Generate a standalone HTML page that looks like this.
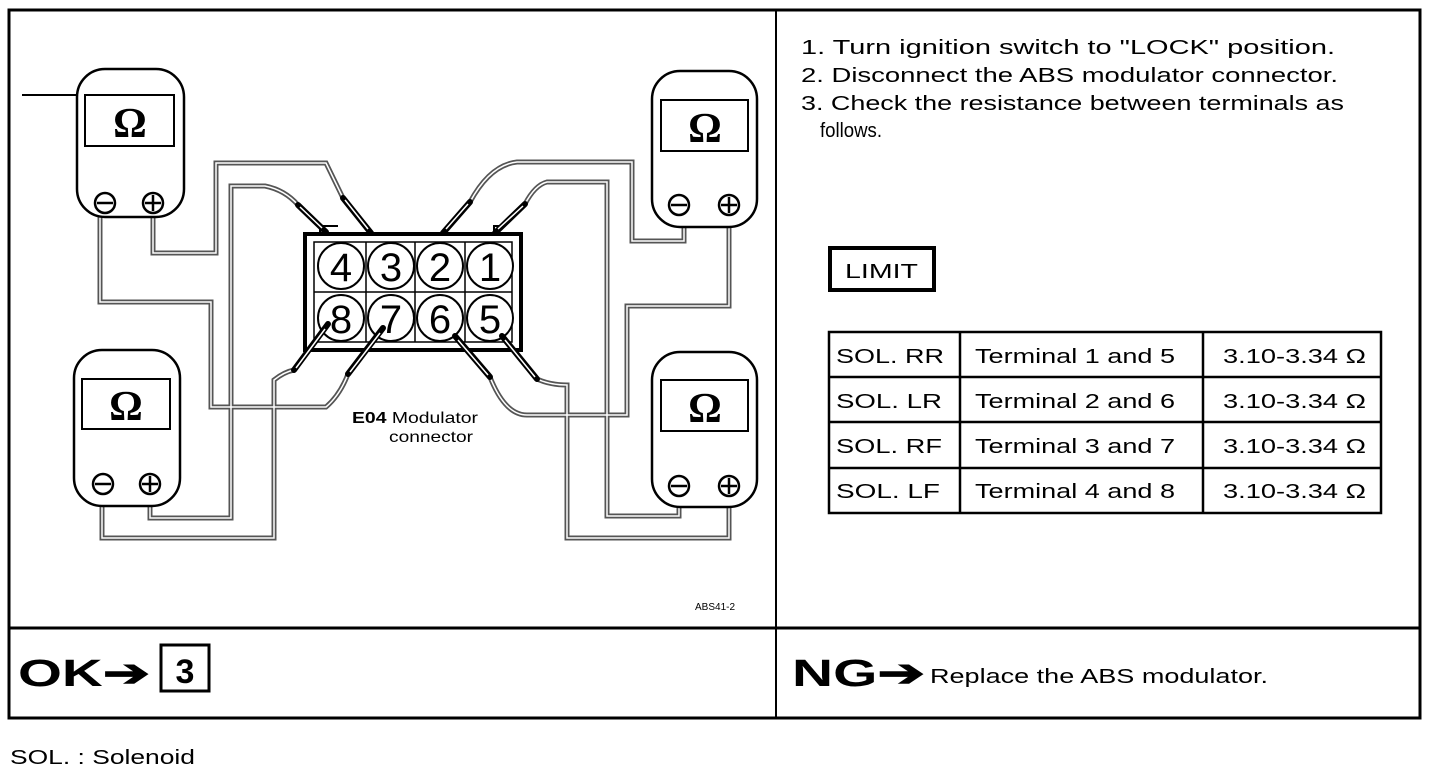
<!DOCTYPE html>
<html><head><meta charset="utf-8"><style>
html,body{margin:0;padding:0;background:#fff;}
svg{display:block;font-family:"Liberation Sans",Arial,sans-serif;}
</style></head><body>
<svg width="1440" height="772" viewBox="0 0 1440 772" xmlns="http://www.w3.org/2000/svg">
<rect x="9" y="10" width="1411" height="708" fill="none" stroke="#000" stroke-width="3"/>
<line x1="776" y1="10" x2="776" y2="718" stroke="#000" stroke-width="2"/>
<line x1="9" y1="628" x2="1420" y2="628" stroke="#000" stroke-width="3"/>
<line x1="22" y1="95" x2="88" y2="95" stroke="#000" stroke-width="2"/>

<g fill="none" stroke-linejoin="miter">
<g stroke="#555" stroke-width="5">
<path d="M153 217 V253 H216 V163 H326 L343 198"/>
<path d="M100 217 V302 H211 V407 H326 Q340 395 348 374"/>
<path d="M150 506 V518 H231 V186 H265 Q285 190 298 205"/>
<path d="M102 506 V538 H274 V380 Q284 372 294 370"/>
<path d="M470 202 Q490 165 517 162 H632 V241 H684 V227"/>
<path d="M525 204 Q535 185 547 182 H607 V516 H679 V507"/>
<path d="M490 377 Q505 415 527 415 H627 V306 H729 V227"/>
<path d="M537 379 Q550 385 567 385 V538 H729 V507"/>
</g>
<g stroke="#fff" stroke-width="1.5">
<path d="M153 217 V253 H216 V163 H326 L343 198"/>
<path d="M100 217 V302 H211 V407 H326 Q340 395 348 374"/>
<path d="M150 506 V518 H231 V186 H265 Q285 190 298 205"/>
<path d="M102 506 V538 H274 V380 Q284 372 294 370"/>
<path d="M470 202 Q490 165 517 162 H632 V241 H684 V227"/>
<path d="M525 204 Q535 185 547 182 H607 V516 H679 V507"/>
<path d="M490 377 Q505 415 527 415 H627 V306 H729 V227"/>
<path d="M537 379 Q550 385 567 385 V538 H729 V507"/>
</g>
</g>

<g fill="#fff" stroke="#000" stroke-width="2.5">
<rect x="77" y="69" width="107" height="148" rx="28"/>
<rect x="652" y="71" width="105" height="156" rx="28"/>
<rect x="74" y="350" width="106" height="156" rx="28"/>
<rect x="652" y="352" width="105" height="155" rx="28"/>
</g>
<g fill="none" stroke="#000" stroke-width="2">
<rect x="85" y="95" width="89" height="51"/>
<rect x="661" y="100" width="87" height="51"/>
<rect x="82" y="379" width="88" height="50"/>
<rect x="661" y="380" width="87" height="51"/>
</g>
<g font-family="Liberation Serif,serif" font-size="42" font-weight="bold" text-anchor="middle">
<text x="130" y="137">Ω</text><text x="705" y="142">Ω</text>
<text x="126" y="420">Ω</text><text x="705" y="422">Ω</text>
</g>
<g fill="none" stroke="#000" stroke-width="2.5">
<circle cx="105" cy="203" r="10"/><line x1="97" y1="203" x2="113" y2="203"/>
<circle cx="153" cy="203" r="10"/><line x1="145" y1="203" x2="161" y2="203"/><line x1="153" y1="195" x2="153" y2="211"/>
<circle cx="679" cy="205" r="10"/><line x1="671" y1="205" x2="687" y2="205"/>
<circle cx="729" cy="205" r="10"/><line x1="721" y1="205" x2="737" y2="205"/><line x1="729" y1="197" x2="729" y2="213"/>
<circle cx="103" cy="484" r="10"/><line x1="95" y1="484" x2="111" y2="484"/>
<circle cx="150" cy="484" r="10"/><line x1="142" y1="484" x2="158" y2="484"/><line x1="150" y1="476" x2="150" y2="492"/>
<circle cx="679" cy="486" r="10"/><line x1="671" y1="486" x2="687" y2="486"/>
<circle cx="729" cy="486" r="10"/><line x1="721" y1="486" x2="737" y2="486"/><line x1="729" y1="478" x2="729" y2="494"/>
</g>

<rect x="305" y="234" width="216" height="116" fill="#fff" stroke="#000" stroke-width="4"/>
<rect x="314" y="242" width="198" height="100" fill="none" stroke="#000" stroke-width="1.5"/>
<line x1="314" y1="292" x2="512" y2="292" stroke="#000" stroke-width="1.5"/>
<g stroke="#000" stroke-width="1.5"><line x1="366" y1="242" x2="366" y2="342"/><line x1="415" y1="242" x2="415" y2="342"/><line x1="465" y1="242" x2="465" y2="342"/></g>
<path d="M320 234 V226 H338" fill="none" stroke="#000" stroke-width="2"/>
<path d="M494 234 V226 H500" fill="none" stroke="#000" stroke-width="2"/>
<g fill="#fff" stroke="#000" stroke-width="2">
<circle cx="341" cy="266" r="23"/><circle cx="391" cy="266" r="23"/><circle cx="440" cy="266" r="23"/><circle cx="490" cy="266" r="23"/>
<circle cx="341" cy="318" r="23"/><circle cx="391" cy="318" r="23"/><circle cx="440" cy="318" r="23"/><circle cx="490" cy="318" r="23"/>
</g>
<g font-size="40" text-anchor="middle">
<text x="341" y="281">4</text><text x="391" y="281">3</text><text x="440" y="281">2</text><text x="490" y="281">1</text>
<text x="341" y="333">8</text><text x="391" y="333">7</text><text x="440" y="333">6</text><text x="490" y="333">5</text>
</g>
<g stroke="#000" stroke-width="6" stroke-linecap="round">
<line x1="326" y1="232" x2="298" y2="205"/><line x1="371" y1="233" x2="343" y2="198"/>
<line x1="443" y1="233" x2="470" y2="202"/><line x1="495" y1="233" x2="525" y2="204"/>
<line x1="328" y1="324" x2="294" y2="370"/><line x1="383" y1="328" x2="348" y2="374"/>
<line x1="455" y1="336" x2="490" y2="377"/><line x1="502" y1="336" x2="537" y2="379"/>
</g>
<g stroke="#fff" stroke-width="1.5">
<line x1="322" y1="228" x2="300" y2="207"/><line x1="368" y1="229" x2="345" y2="200"/>
<line x1="446" y1="229" x2="468" y2="204"/><line x1="498" y1="229" x2="523" y2="206"/>
<line x1="325" y1="329" x2="296" y2="368"/><line x1="380" y1="333" x2="350" y2="372"/>
<line x1="458" y1="340" x2="488" y2="375"/><line x1="505" y1="340" x2="535" y2="377"/>
</g>
<text x="352" y="423" font-size="16" textLength="126" lengthAdjust="spacingAndGlyphs"><tspan font-weight="bold">E04</tspan> Modulator</text>
<text x="389" y="442" font-size="16" textLength="84" lengthAdjust="spacingAndGlyphs">connector</text>
<text x="695" y="610" font-size="10">ABS41-2</text>

<g font-size="20" lengthAdjust="spacingAndGlyphs">
<text x="801" y="54" textLength="534" lengthAdjust="spacingAndGlyphs">1. Turn ignition switch to "LOCK" position.</text>
<text x="801" y="82" textLength="537" lengthAdjust="spacingAndGlyphs">2. Disconnect the ABS modulator connector.</text>
<text x="801" y="110" textLength="543" lengthAdjust="spacingAndGlyphs">3. Check the resistance between terminals as</text>
<text x="820" y="137" textLength="62" lengthAdjust="spacingAndGlyphs">follows.</text>
</g>
<rect x="830" y="248" width="104" height="42" fill="none" stroke="#000" stroke-width="4"/>
<text x="845" y="278" font-size="20" textLength="73" lengthAdjust="spacingAndGlyphs">LIMIT</text>
<g stroke="#000" stroke-width="2.5" fill="none">
<rect x="829" y="332" width="552" height="181"/>
<line x1="829" y1="377" x2="1381" y2="377"/><line x1="829" y1="422" x2="1381" y2="422"/><line x1="829" y1="468" x2="1381" y2="468"/>
<line x1="960" y1="332" x2="960" y2="513"/><line x1="1203" y1="332" x2="1203" y2="513"/>
</g>
<g font-size="20">
<text x="836" y="363" textLength="108" lengthAdjust="spacingAndGlyphs">SOL. RR</text><text x="975" y="363" textLength="200" lengthAdjust="spacingAndGlyphs">Terminal 1 and 5</text><text x="1223" y="363" textLength="143" lengthAdjust="spacingAndGlyphs">3.10-3.34 Ω</text>
<text x="836" y="408" textLength="106" lengthAdjust="spacingAndGlyphs">SOL. LR</text><text x="975" y="408" textLength="200" lengthAdjust="spacingAndGlyphs">Terminal 2 and 6</text><text x="1223" y="408" textLength="143" lengthAdjust="spacingAndGlyphs">3.10-3.34 Ω</text>
<text x="836" y="453" textLength="106" lengthAdjust="spacingAndGlyphs">SOL. RF</text><text x="975" y="453" textLength="200" lengthAdjust="spacingAndGlyphs">Terminal 3 and 7</text><text x="1223" y="453" textLength="143" lengthAdjust="spacingAndGlyphs">3.10-3.34 Ω</text>
<text x="836" y="498" textLength="104" lengthAdjust="spacingAndGlyphs">SOL. LF</text><text x="975" y="498" textLength="200" lengthAdjust="spacingAndGlyphs">Terminal 4 and 8</text><text x="1223" y="498" textLength="143" lengthAdjust="spacingAndGlyphs">3.10-3.34 Ω</text>
</g>

<text x="18" y="686" font-size="38" font-weight="bold" textLength="132" lengthAdjust="spacingAndGlyphs">OK➔</text>
<rect x="161" y="645" width="48" height="46" fill="none" stroke="#000" stroke-width="3"/>
<text x="185" y="683" font-size="34" font-weight="bold" text-anchor="middle">3</text>
<text x="792" y="686" font-size="38" font-weight="bold" textLength="133" lengthAdjust="spacingAndGlyphs">NG➔</text>
<text x="930" y="683" font-size="20" textLength="338" lengthAdjust="spacingAndGlyphs">Replace the ABS modulator.</text>
<text x="10" y="764" font-size="20" textLength="185" lengthAdjust="spacingAndGlyphs">SOL. : Solenoid</text>
</svg>
</body></html>
